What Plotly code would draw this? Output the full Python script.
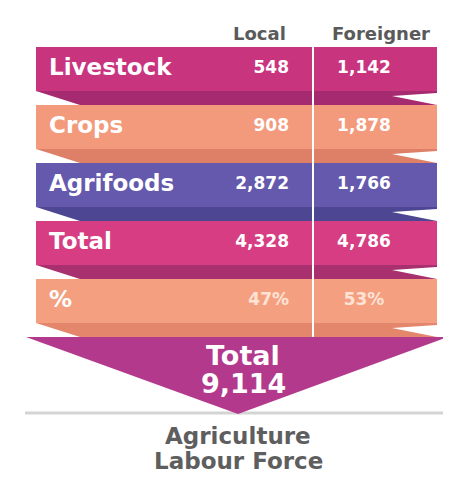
import plotly.graph_objects as go

# rows of the infographic
categories = ['Livestock', 'Crops', 'Agrifoods', 'Total', '%']
local = [548, 908, 2872, 4328]
foreigner = [1142, 1878, 1766, 4786]
share_local = 47
share_foreigner = 53
grand_total = 9114

band_colors = ['#c9347f', '#f39a7d', '#6459ad', '#d63d82', '#f4a080']
fold_colors = ['#a62a70', '#de8068', '#4d4693', '#a8306f', '#e4866c']
headers = ['Local', 'Foreigner']

local_txt = [f'{v:,}' for v in local] + [f'{share_local}%']
foreign_txt = [f'{v:,}' for v in foreigner] + [f'{share_foreigner}%']

X0, X1 = 36, 437
TOP, H, STEP = 47, 44, 58
centers = [TOP + H / 2 + i * STEP for i in range(len(categories))]

# page body has an 8px margin, so the axes start at 8 to keep pixel == data
PAD = 8

fig = go.Figure()

# bands as horizontal bars
fig.add_trace(go.Bar(
    y=centers, x=[X1 - X0] * len(categories), base=X0, orientation='h',
    width=H, marker=dict(color=band_colors, line=dict(width=0)),
    hoverinfo='skip', showlegend=False
))

shapes = []
# grey baseline under the arrow
shapes.append(dict(type='line', x0=25, x1=450, y0=413, y1=413, layer='below',
                   line=dict(color='#d4d4d4', width=3)))
# ribbon folds
for i, c in enumerate(fold_colors):
    b = centers[i] + H / 2
    path = (f'M {X0},{b} L {X1},{b} L {X1},{b + 2} L 392,{b + 5} '
            f'L {X1},{b + 14} L 80,{b + 14} Z')
    shapes.append(dict(type='path', path=path, fillcolor=c, line=dict(width=0), layer='above'))
# big arrow
shapes.append(dict(type='path', path='M 26,337 L 448,337 L 238,414 Z',
                   fillcolor='#b3398c', line=dict(width=0), layer='above'))
# divider line between columns
shapes.append(dict(type='line', x0=313, x1=313, y0=TOP - 2, y1=337,
                   line=dict(color='white', width=2), layer='above'))

font = 'DejaVu Sans'
# labels
fig.add_trace(go.Scatter(
    x=[49] * len(categories), y=centers, mode='text', text=categories,
    textposition='middle right', hoverinfo='skip', showlegend=False,
    textfont=dict(family=font, size=23, color='white', weight='bold')
))
fig.add_trace(go.Scatter(
    x=[289] * len(categories), y=centers, mode='text', text=local_txt,
    textposition='middle left', hoverinfo='skip', showlegend=False,
    textfont=dict(family=font, size=17, color=['white'] * 4 + ['#fde2d6'], weight='bold')
))
fig.add_trace(go.Scatter(
    x=[364] * len(categories), y=centers, mode='text', text=foreign_txt,
    textposition='middle center', hoverinfo='skip', showlegend=False,
    textfont=dict(family=font, size=17, color=['white'] * 4 + ['#fde2d6'], weight='bold')
))

annotations = [
    dict(x=288, y=33, text=headers[0], xanchor='right', showarrow=False,
         font=dict(family=font, size=18, color='#5a5a5a', weight='bold')),
    dict(x=381, y=33, text=headers[1], xanchor='center', showarrow=False,
         font=dict(family=font, size=18, color='#5a5a5a', weight='bold')),
    dict(x=243, y=355, text='Total', showarrow=False,
         font=dict(family=font, size=27, color='white', weight='bold')),
    dict(x=243, y=383, text=f'{grand_total:,}', showarrow=False,
         font=dict(family=font, size=27, color='white', weight='bold')),
    dict(x=238, y=436, text='Agriculture', showarrow=False,
         font=dict(family=font, size=23, color='#5e5e5e', weight='bold')),
    dict(x=238, y=461, text='Labour Force', showarrow=False,
         font=dict(family=font, size=23, color='#5e5e5e', weight='bold')),
]

fig.update_layout(
    width=451 - PAD, height=477 - PAD, margin=dict(l=0, r=0, t=0, b=0),
    paper_bgcolor='white', plot_bgcolor='white',
    xaxis=dict(range=[PAD, 451], visible=False, fixedrange=True),
    yaxis=dict(range=[477, PAD], visible=False, fixedrange=True),
    shapes=shapes, annotations=annotations, bargap=0
)

fig.write_html('out.html')
